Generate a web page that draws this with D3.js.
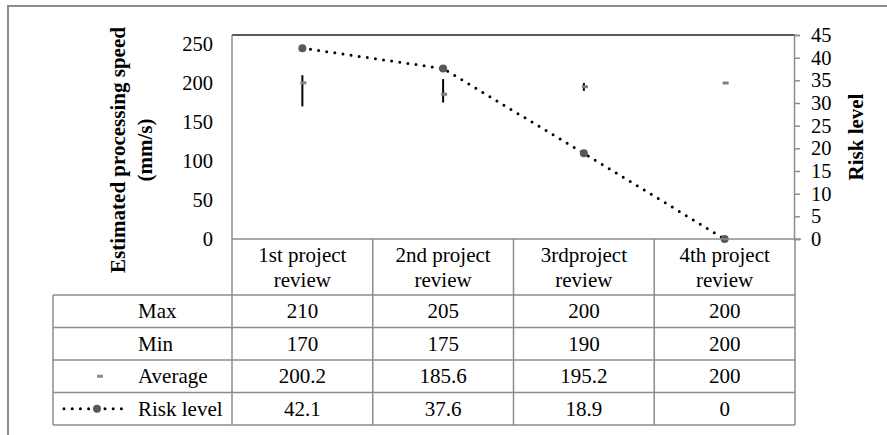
<!DOCTYPE html>
<html>
<head>
<meta charset="utf-8">
<script src="https://cdn.jsdelivr.net/npm/d3@7"></script>
<style>
  html, body { margin: 0; padding: 0; background: #fff; }
  svg { display: block; }
  svg text { font-family: "Liberation Serif", "Times New Roman", Times, "DejaVu Serif", serif; fill: #000; }
</style>
</head>
<body>
<svg id="chart" width="887" height="435"></svg>
<script>
// Review data
const categories = ["1st project review", "2nd project review", "3rdproject review", "4th project review"];
const categoryLines = [["1st project", "review"], ["2nd project", "review"], ["3rdproject", "review"], ["4th project", "review"]];
const maxValues = [210, 205, 200, 200];
const minValues = [170, 175, 190, 200];
const avgValues = [200.2, 185.6, 195.2, 200];
const riskValues = [42.1, 37.6, 18.9, 0];
const speedTicks = [0, 50, 100, 150, 200, 250];
const riskTicks = [0, 5, 10, 15, 20, 25, 30, 35, 40, 45];
const rowLabels = ["Max", "Min", "Average", "Risk level"];

const SERIF = '"Liberation Serif", "Times New Roman", Times, "DejaVu Serif", serif';
const svg = d3.select("#chart").attr("font-family", SERIF);
const grey = "#8c8c8c";
const FS = 20.5;   // axis tick labels
const TFS = 21;    // data table text

// plot frame
const plot = { left: 232, right: 795, top: 35, bottom: 239 };
const x = d3.scaleBand().domain(categories).range([plot.left, plot.right]);
const ySpeed = d3.scaleLinear().domain([0, 250]).range([plot.bottom, 44]);
const yRisk = d3.scaleLinear().domain([0, 45]).range([plot.bottom, plot.top]);

// outer border
svg.append("path")
  .attr("d", `M8,440 L8,6 L892,6`)
  .attr("fill", "none").attr("stroke", grey).attr("stroke-width", 2);

// plot area edges
svg.append("line").attr("x1", plot.left).attr("x2", plot.right).attr("y1", plot.top).attr("y2", plot.top)
  .attr("stroke", "#222").attr("stroke-width", 1.5);
svg.append("line").attr("x1", plot.left).attr("x2", plot.left).attr("y1", plot.top).attr("y2", plot.bottom)
  .attr("stroke", grey).attr("stroke-width", 1.5);

// left axis (labels only)
const leftAxis = svg.append("g").attr("transform", `translate(${plot.left},0)`)
  .call(d3.axisLeft(ySpeed).tickValues(speedTicks).tickSize(0).tickPadding(19));
leftAxis.attr("font-family", SERIF).attr("font-size", FS);
leftAxis.select(".domain").remove();
leftAxis.selectAll("text").attr("fill", "#000");

// right axis
const rightAxis = svg.append("g").attr("transform", `translate(${plot.right - 1},0)`)
  .call(d3.axisRight(yRisk).tickValues(riskTicks).tickSize(6).tickPadding(11));
rightAxis.attr("font-family", SERIF).attr("font-size", FS);
rightAxis.select(".domain").attr("stroke", grey).attr("stroke-width", 1.5);
rightAxis.selectAll(".tick line").attr("stroke", grey).attr("stroke-width", 1.5);
rightAxis.selectAll("text").attr("fill", "#000");

// axis titles
const leftTitle = svg.append("text")
  .attr("transform", "translate(125,150) rotate(-90)")
  .attr("text-anchor", "middle").attr("font-weight", "bold").attr("font-size", 21);
leftTitle.append("tspan").attr("x", 0).attr("dy", 0).text("Estimated processing speed");
leftTitle.append("tspan").attr("x", 0).attr("dy", 27).text("(mm/s)");

svg.append("text")
  .attr("transform", "translate(863,137) rotate(-90)")
  .attr("text-anchor", "middle").attr("font-weight", "bold").attr("font-size", 21)
  .text("Risk level");

// high-low lines with average markers
const hl = svg.append("g");
categories.forEach((c, i) => {
  const cx = x(c) + x.bandwidth() / 2;
  hl.append("line")
    .attr("x1", cx).attr("x2", cx)
    .attr("y1", ySpeed(maxValues[i])).attr("y2", ySpeed(minValues[i]))
    .attr("stroke", "#000").attr("stroke-width", 2);
  hl.append("rect")
    .attr("x", cx - 2).attr("y", ySpeed(avgValues[i]) - 1.5)
    .attr("width", 6).attr("height", 3)
    .attr("fill", "#7f7f7f");
});

// risk line
const riskLine = d3.line()
  .x((d, i) => x(categories[i]) + x.bandwidth() / 2)
  .y(d => yRisk(d));
svg.append("path").datum(riskValues)
  .attr("d", riskLine)
  .attr("fill", "none").attr("stroke", "#000").attr("stroke-width", 3)
  .attr("stroke-linecap", "round").attr("stroke-dasharray", "0 8.2");
svg.append("g").selectAll("circle").data(riskValues).join("circle")
  .attr("cx", (d, i) => x(categories[i]) + x.bandwidth() / 2)
  .attr("cy", d => yRisk(d))
  .attr("r", 4).attr("fill", "#595959");

// data table
const table = { left: 53, headerBottom: 295, rowH: 32.5 };
const tbl = svg.append("g");
const rowY = rowLabels.map((r, i) => table.headerBottom + i * table.rowH);
const tableBottom = table.headerBottom + rowLabels.length * table.rowH;

// vertical lines
const colEdges = categories.map(c => x(c)).concat([plot.right]);
colEdges.forEach(cx => {
  tbl.append("line").attr("x1", cx).attr("x2", cx).attr("y1", plot.bottom).attr("y2", tableBottom)
    .attr("stroke", grey).attr("stroke-width", 1.5);
});
tbl.append("line").attr("x1", table.left).attr("x2", table.left).attr("y1", table.headerBottom).attr("y2", tableBottom)
  .attr("stroke", grey).attr("stroke-width", 1.5);
// horizontal lines
tbl.append("line").attr("x1", plot.left).attr("x2", plot.right + 6).attr("y1", plot.bottom).attr("y2", plot.bottom)
  .attr("stroke", grey).attr("stroke-width", 1.5);
rowY.concat([tableBottom]).forEach(y => {
  tbl.append("line").attr("x1", table.left).attr("x2", plot.right).attr("y1", y).attr("y2", y)
    .attr("stroke", grey).attr("stroke-width", 1.5);
});

// category headers
categoryLines.forEach((lines, i) => {
  const cx = x(categories[i]) + x.bandwidth() / 2;
  const t = tbl.append("text").attr("text-anchor", "middle").attr("font-size", TFS);
  t.append("tspan").attr("x", cx).attr("y", 262).text(lines[0]);
  t.append("tspan").attr("x", cx).attr("y", 287).text(lines[1]);
});

// row labels and values
const rows = [maxValues, minValues, avgValues, riskValues];
rowLabels.forEach((label, r) => {
  const cy = rowY[r] + table.rowH / 2 + 7;
  tbl.append("text").attr("x", 138).attr("y", cy).attr("font-size", TFS).text(label);
  rows[r].forEach((v, i) => {
    tbl.append("text")
      .attr("x", x(categories[i]) + x.bandwidth() / 2).attr("y", cy)
      .attr("text-anchor", "middle").attr("font-size", TFS)
      .text(v);
  });
});

// legend keys in the table
const avgKeyY = rowY[2] + table.rowH / 2;
tbl.append("rect").attr("x", 97).attr("y", avgKeyY - 1.5).attr("width", 6).attr("height", 3).attr("fill", "#8c8c8c");
const riskKeyY = rowY[3] + table.rowH / 2;
tbl.append("line").attr("x1", 64).attr("x2", 126).attr("y1", riskKeyY).attr("y2", riskKeyY)
  .attr("stroke", "#000").attr("stroke-width", 3).attr("stroke-linecap", "round").attr("stroke-dasharray", "0 8.2");
tbl.append("circle").attr("cx", 97).attr("cy", riskKeyY).attr("r", 4).attr("fill", "#595959");
</script>
</body>
</html>
